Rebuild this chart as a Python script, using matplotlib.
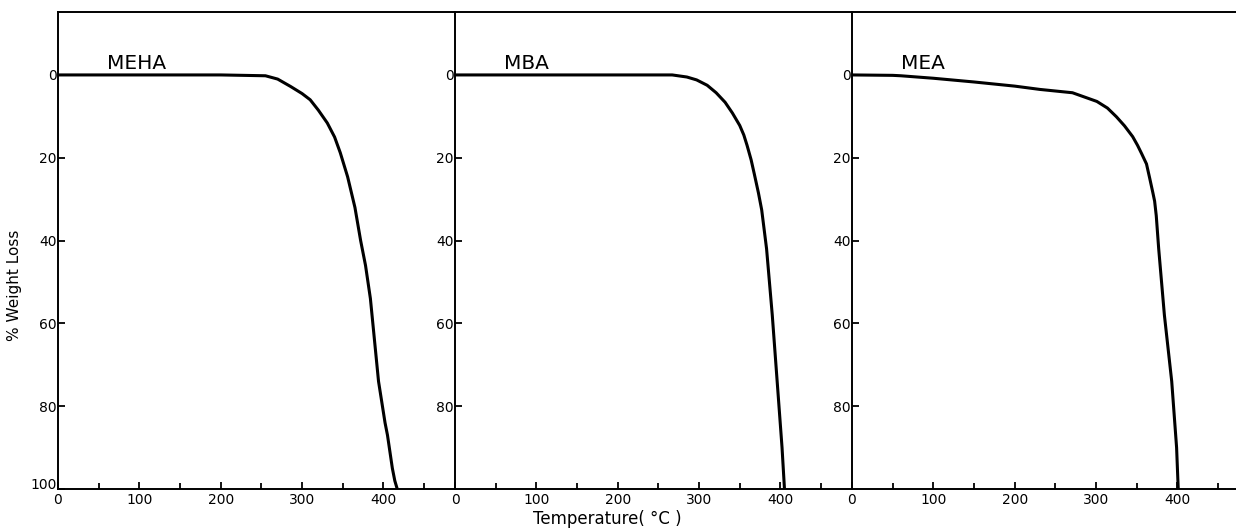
import matplotlib.pyplot as plt
import matplotlib.transforms as mtransforms
from matplotlib.ticker import MultipleLocator

# MEHA
t_meha = [0, 100, 200, 255, 270, 286, 300, 310, 320, 331, 340, 347, 356, 365,
          372, 378, 384, 388, 391, 394, 398, 402, 405, 408, 411, 414, 417]
w_meha = [0, 0, 0, 0.2, 1.0, 2.8, 4.5, 6.0, 8.5, 11.6, 15, 18.8, 24.6, 32,
          40, 46, 54, 62, 68, 74, 79, 84, 87, 91, 95, 98, 100]

# MBA
t_mba = [0, 100, 200, 267, 285, 297, 310, 321, 332, 341, 350, 355, 359, 364,
         368, 373, 377, 383, 390, 396, 402, 405]
w_mba = [0, 0, 0, 0, 0.5, 1.2, 2.5, 4.3, 6.6, 9.2, 12.2, 14.5, 17, 20.5,
         24, 28.5, 32.6, 42, 58, 74, 90, 100]

# MEA
t_mea = [0, 50, 60, 100, 150, 200, 231, 271, 301, 314, 325, 335, 345, 351,
         356, 362, 366, 370, 372, 374, 377, 384, 393, 399, 401]
w_mea = [0, 0.1, 0.2, 0.8, 1.7, 2.7, 3.5, 4.3, 6.4, 8.0, 10.1, 12.3, 14.9, 17,
         19, 21.5, 25, 28.6, 30.5, 34, 42, 58, 74, 90, 100]

names = ["MEHA", "MBA", "MEA"]
temps = [t_meha, t_mba, t_mea]
losses = [w_meha, w_mba, w_mea]

W, H = 1236, 531
fig = plt.figure(figsize=(W / 100, H / 100), dpi=100)

lefts = [58, 455, 852]
pw = 397
bottom = (H - 489) / H
height = 477 / H

for i in range(3):
    ax = fig.add_axes([lefts[i] / W, bottom, pw / W, height])
    ax.plot(temps[i], losses[i], color='black', lw=2.2,
            solid_capstyle='round', solid_joinstyle='round')
    ax.set_xlim(0, 488)
    ax.set_ylim(100, -15.2)
    ax.xaxis.set_minor_locator(MultipleLocator(50))
    ax.set_xticks([0, 100, 200, 300, 400])
    if i == 0:
        ax.set_yticks([0, 20, 40, 60, 80, 100])
    else:
        ax.set_yticks([0, 20, 40, 60, 80])
    ax.tick_params(axis='both', which='both', direction='in', width=1.3,
                   labelsize=10)
    ax.tick_params(axis='x', which='major', length=5, pad=3)
    ax.tick_params(axis='x', which='minor', length=4)
    ax.tick_params(axis='y', length=5, pad=1)
    ax.spines['right'].set_visible(False)
    for s in ['left', 'top', 'bottom']:
        ax.spines[s].set_linewidth(1.4)
    ax.patch.set_alpha(0)
    ax.text(60, -1.5, names[i], fontsize=14.5, ha='left', va='baseline')
    if i == 0:
        # lift the "100" label a little so it clears the "0" below it
        lab = ax.get_yticklabels()[-1]
        lab.set_transform(lab.get_transform() +
                          mtransforms.ScaledTranslation(0, 4 / 72, fig.dpi_scale_trans))
    if i == 1:
        ax.set_xlabel("Temperature( °C )", fontsize=12, labelpad=4)
        ax.xaxis.set_label_coords((607 - 455) / pw, -0.045)

fig.text(15 / W, (H - 285) / H, "% Weight Loss", fontsize=11,
         rotation=90, ha='center', va='center')

fig.savefig("out.png", dpi=100)
